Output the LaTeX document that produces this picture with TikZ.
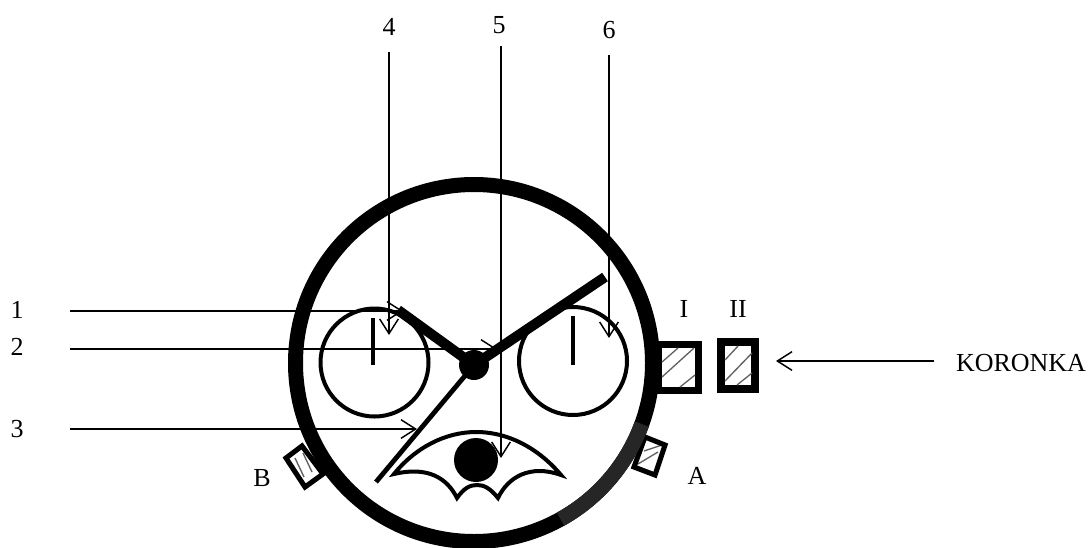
\documentclass[tikz,border=0pt]{standalone}
\usepackage{fontspec}
\setmainfont{Liberation Serif}
\usetikzlibrary{arrows.meta,positioning,calc}
\definecolor{ink}{HTML}{000000}
\definecolor{hatch}{HTML}{606060}
\definecolor{patch}{HTML}{262626}
\tikzset{
  label/.style={font=\fontsize{19.5}{23}\selectfont, text=ink, align=center, inner sep=0pt},
  pointer/.style={-{Straight Barb[length=11pt,width=14pt,line width=1.1pt]}, line width=1.1pt, draw=ink},
  ringbox/.style={circle, draw=ink, line width=11.25pt, minimum size=267.75pt, inner sep=0pt, outer sep=0pt},
  dial/.style={circle, draw=ink, line width=3pt, minimum size=81pt, inner sep=0pt, outer sep=0pt},
  tick/.style={draw=ink, line width=3.6pt},
  hub/.style={circle, fill=ink, minimum size=22.5pt, inner sep=0pt, outer sep=0pt},
  moon/.style={circle, fill=ink, minimum size=33pt, inner sep=0pt, outer sep=0pt},
  hand/.style={draw=ink, line width=7.6pt},
  sweep/.style={draw=ink, line width=3.6pt},
  crown/.style={draw=ink, line width=5.6pt, miter limit=10},
  pusher/.style={draw=ink, line width=3.8pt},
  hatchline/.style={draw=hatch, line width=1pt}
}
\begin{document}
\begin{tikzpicture}[x=0.75pt,y=-0.75pt]
\useasboundingbox (0,0) rectangle (1091,547);
% side buttons sit under the case
\draw[crown] (658,344.5) rectangle (698.5,390.5);
\draw[hatchline] (662,362)--(678,348); \draw[hatchline] (662,377)--(694,348); \draw[hatchline] (680,387)--(695,375);
\draw[crown] (721,342) rectangle (755,389);
\draw[hatchline] (725,360)--(738,346); \draw[hatchline] (725,381)--(752,353); \draw[hatchline] (737,385)--(752,373);
\draw[hatchline] (644,451)--(662,445); \draw[hatchline] (638,464)--(658,452);
\draw[pusher] (665,445)--(655,475)--(634,467)--(645,437)--cycle;
\draw[hatchline] (295,458)--(304,477); \draw[hatchline] (303,453)--(312,472);
\draw[pusher] (302,446)--(286,458)--(305,487)--(323,474)--cycle;
% case
\node[ringbox] (ring) at (474,363) {};
\draw[patch, line width=11.25pt] (ring) ++(-61:133.9pt) arc[start angle=-61,end angle=-20,radius=133.9pt];
% small dials
\node[dial] (dl) at (374.5,362.5) {};
\node[dial] (dr) at (573,361) {};
\coordinate (dlt) at (373,318); \coordinate (dlb) at (373,365);
\coordinate (drt) at (573,316); \coordinate (drb) at (573,365);
\draw[tick] (dlt)--(dlb); \draw[tick] (drt)--(drb);
% hands
\node[hub] (h) at (474,365) {};
\coordinate (hh) at (398,310); \coordinate (mh) at (605,277); \coordinate (sh) at (376,482);
\draw[hand] (h.center)--(hh); \draw[hand] (h.center)--(mh); \draw[sweep] (h.center)--(sh);
% date window
\node[moon] (m) at (476,460) {};
\draw[draw=ink, line width=3pt, miter limit=10] (394,474) .. controls (415,448) and (445,432) .. (476,432) .. controls (510,432) and (540,450) .. (561,475) .. controls (530,464) and (508,477) .. (498,498) .. controls (490,488) and (484,485) .. (477,485) .. controls (470,485) and (464,488) .. (457,498) .. controls (447,478) and (428,466) .. (394,474) -- cycle;
% labels
\node[label] (n1) at (17,310) {1};
\node[label] (n2) at (17,347) {2};
\node[label] (n3) at (17,429) {3};
\node[label] (n4) at (389,27) {4};
\node[label] (n5) at (499,25) {5};
\node[label] (n6) at (609,30) {6};
\node[label] (nI) at (684,309) {I};
\node[label] (nII) at (738,309) {II};
\node[label] (nA) at (697,476) {A};
\node[label] (nB) at (262,478) {B};
\node[label] (nk) at (1021,363) {KORONKA};
% pointers
\coordinate (s1) at (70,311); \coordinate (t1) at (403,311);
\coordinate (s2) at (70,349); \coordinate (t2) at (497,349);
\coordinate (s3) at (70,429); \coordinate (t3) at (417,429);
\coordinate (s4) at (389,52); \coordinate (t4) at (389,335);
\coordinate (s5) at (501,46); \coordinate (t5) at (501,458);
\coordinate (s6) at (609,55); \coordinate (t6) at (609,338);
\coordinate (sk) at (934,361); \coordinate (tk) at (776,361);
\draw[pointer] (s1)--(t1); \draw[pointer] (s2)--(t2); \draw[pointer] (s3)--(t3);
\draw[pointer] (s4)--(t4); \draw[pointer] (s5)--(t5); \draw[pointer] (s6)--(t6);
\draw[pointer] (sk)--(tk);
\end{tikzpicture}
\end{document}
